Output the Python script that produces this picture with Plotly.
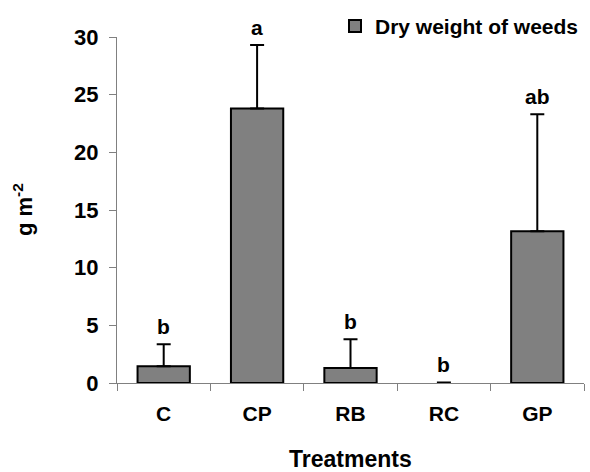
import plotly.graph_objects as go

categories = ["C", "CP", "RB", "RC", "GP"]
dry_weight = [1.46, 23.8, 1.3, 0.0, 13.15]
error_up = [1.9, 5.5, 2.5, 0.05, 10.15]
letters = ["b", "a", "b", "b", "ab"]
y_ticks = [0, 5, 10, 15, 20, 25, 30]

FONT = "Liberation Sans, Arial, Helvetica, sans-serif"

fig = go.Figure()
fig.add_trace(go.Bar(
    x=categories, y=dry_weight, name="Dry weight of weeds",
    marker=dict(color="#808080",
                line=dict(color="black", width=[2 if v > 0 else 0 for v in dry_weight])),
    width=0.56,
    error_y=dict(type="data", array=error_up, arrayminus=[0]*len(error_up),
                 symmetric=False, color="black", thickness=2, width=7),
))

for c, t, v, e in zip(categories, letters, dry_weight, error_up):
    fig.add_annotation(x=c, y=v + e, text=t, showarrow=False,
                       yanchor="bottom", yshift=4,
                       font=dict(size=21, color="black", family=FONT, weight="bold"))

# axis titles
fig.add_annotation(xref="paper", yref="paper", x=0.5, y=0, yshift=-76,
                   text="Treatments", showarrow=False, yanchor="middle",
                   font=dict(size=23, color="black", family=FONT, weight="bold"))
fig.add_annotation(xref="paper", yref="paper", x=0, y=0.5, xshift=-94,
                   text="g m<sup>-2</sup>", showarrow=False, textangle=-90,
                   xanchor="center", yanchor="middle",
                   font=dict(size=22, color="black", family=FONT, weight="bold"))

fig.update_layout(
    width=590, height=472,
    margin=dict(l=117, r=6, t=34, b=89),
    plot_bgcolor="white", paper_bgcolor="white",
    font=dict(family=FONT, color="black"),
    showlegend=True,
    legend=dict(x=1.0, xanchor="right", y=1.09, yanchor="top",
                font=dict(size=21, color="black", family=FONT, weight="bold"),
                bgcolor="rgba(0,0,0,0)", itemwidth=30),
    xaxis=dict(
        automargin=False,
        showline=True, linecolor="#808080", linewidth=1,
        ticks="outside", tickson="boundaries", ticklen=7, tickcolor="#808080",
        tickfont=dict(size=21, family=FONT, weight="bold"),
        ticklabelstandoff=12,
    ),
    yaxis=dict(
        automargin=False,
        range=[0, 30], tickvals=y_ticks,
        showline=True, linecolor="#808080", linewidth=1,
        ticks="outside", ticklen=7, tickcolor="#808080",
        showgrid=False, zeroline=False,
        tickfont=dict(size=22, family=FONT, weight="bold"),
        ticklabelstandoff=6,
    ),
)

fig.write_html("out.html")
